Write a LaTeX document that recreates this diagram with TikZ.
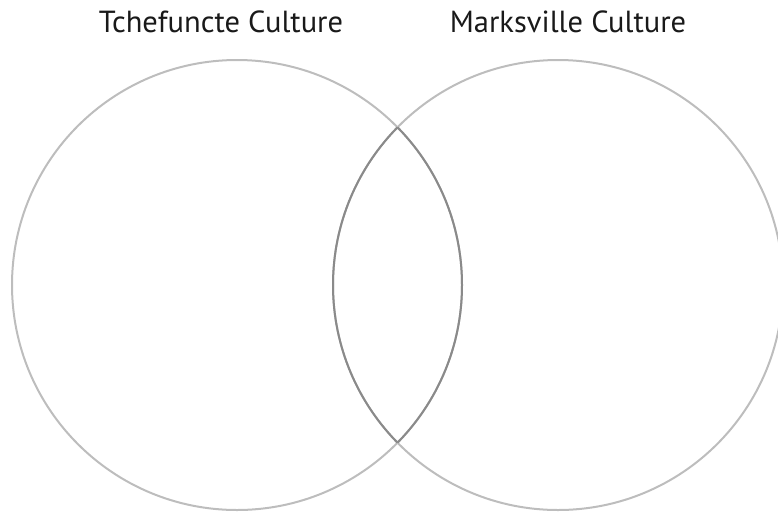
\documentclass[tikz,border=0pt]{standalone}
\usepackage{fontspec}
\setmainfont{PT Sans}
\definecolor{ringgray}{HTML}{BDBDBD}
\definecolor{lensgray}{HTML}{8A8A8A}
\begin{document}
\begin{tikzpicture}[x=1pt,y=1pt,
  ring/.style={draw=ringgray,line width=2pt},
  lens/.style={draw=lensgray,line width=2pt},
  title/.style={font=\fontsize{30.5}{34}\selectfont,text=black!90,inner sep=0pt,anchor=base}]
\useasboundingbox (0,0) rectangle (778,-512);
\coordinate (cl) at (237,-285);
\coordinate (cr) at (558,-285);
\draw[ring] (cl) circle[radius=225];
\draw[ring] (cr) circle[radius=225];
\begin{scope}
  \clip (cl) circle[radius=225];
  \draw[lens] (cr) circle[radius=225];
\end{scope}
\begin{scope}
  \clip (cr) circle[radius=225];
  \draw[lens] (cl) circle[radius=225];
\end{scope}
\node[title] (tl) at (221,-32) {Tchefuncte Culture};
\node[title] (tr) at (568,-32) {Marksville Culture};
\end{tikzpicture}
\end{document}
